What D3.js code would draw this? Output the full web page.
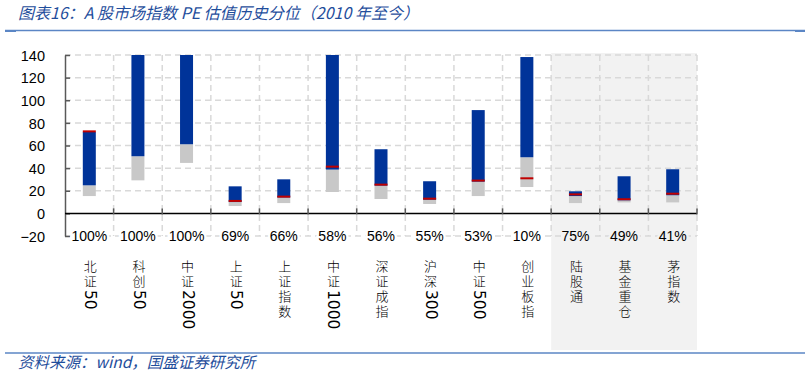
<!DOCTYPE html>
<html>
<head>
<meta charset="utf-8">
<script src="https://cdn.jsdelivr.net/npm/d3@7"></script>
<style>
  body { margin: 0; background: #fff; }
  svg { display: block; }
  .num { font-family: "Liberation Sans", Arial, sans-serif; fill: #000; }
  .cjk { font-family: "Noto Sans CJK SC", sans-serif; }
</style>
</head>
<body>
<script>
const categories = ["北证50", "科创50", "中证2000", "上证50", "上证指数", "中证1000", "深证成指",
                    "沪深300", "中证500", "创业板指", "陆股通", "基金重仓", "茅指数"];
const percentiles = ["100%", "100%", "100%", "69%", "66%", "58%", "56%", "55%", "53%", "10%", "75%", "49%", "41%"];
// PE range per index: bottom of gray, top of gray, top of blue, current value
const peMin = [15.3, 29.2, 44.6, 6.5, 9.1, 18.9, 12.7, 8.3, 15.3, 23.3, 9.1, 9.7, 9.7];
const peLow = [24.8, 50.5, 61.1, 10.0, 14.0, 38.7, 24.5, 12.0, 28.0, 49.6, 15.3, 11.5, 16.0];
const peMax = [72.0, 190, 165, 23.9, 30.1, 150, 56.7, 28.4, 91.3, 138.2, 19.5, 32.8, 39.0];
const peNow = [72.5, 190, 165, 11.0, 14.8, 41.3, 25.4, 13.0, 29.0, 31.0, 16.8, 12.5, 17.4];
const yTicks = [-20, 0, 20, 40, 60, 80, 100, 120, 140];
const shaded = ["陆股通", "基金重仓", "茅指数"];

const W = 811, H = 376;
const margin = { top: 55, left: 65, right: 114, bottom: 140 };
const svg = d3.select("body").append("svg").attr("width", W).attr("height", H);

const x = d3.scaleBand()
  .domain(categories)
  .range([margin.left, W - margin.right]);
const y = d3.scaleLinear()
  .domain([-20, 140])
  .range([H - margin.bottom, margin.top]);

// title and frame lines
svg.append("text")
  .attr("x", 18).attr("y", 19)
  .attr("class", "cjk")
  .style("font-size", "16px").style("font-style", "italic")
  .attr("fill", "#1f4e9c")
  .text("图表16：A 股市场指数 PE 估值历史分位（2010 年至今）");
svg.append("line").attr("x1", 5).attr("x2", 805).attr("y1", 30.5).attr("y2", 30.5)
  .attr("stroke", "#5b86c5").attr("stroke-width", 1.5);
svg.append("rect").attr("x", 5).attr("y", 30).attr("width", 11).attr("height", 2).attr("fill", "#5b86c5");
svg.append("rect").attr("x", 795).attr("y", 30).attr("width", 10).attr("height", 2).attr("fill", "#5b86c5");

// shaded block
const sx0 = x(shaded[0]), sx1 = x(shaded[shaded.length - 1]) + x.bandwidth();
svg.append("rect")
  .attr("x", sx0).attr("y", margin.top - 2)
  .attr("width", sx1 - sx0).attr("height", 350 - margin.top + 2)
  .attr("fill", "#f2f2f2");

// grid
const grid = svg.append("g").attr("stroke", "#d9d9d9").attr("stroke-dasharray", "6,4").attr("stroke-width", 1.5);
grid.selectAll("line.h")
  .data(yTicks.filter(d => d !== 0))
  .enter().append("line")
  .attr("class", "h")
  .attr("x1", margin.left).attr("x2", W - margin.right)
  .attr("y1", d => y(d)).attr("y2", d => y(d));
grid.selectAll("line.v")
  .data(categories)
  .enter().append("line")
  .attr("class", "v")
  .attr("x1", d => x(d) + x.bandwidth()).attr("x2", d => x(d) + x.bandwidth())
  .attr("y1", y(140)).attr("y2", y(-20));

// bars
const bw = 13;
const plot = svg.append("g");
svg.append("clipPath").attr("id", "clip")
  .append("rect").attr("x", margin.left).attr("y", y(140))
  .attr("width", W - margin.right - margin.left).attr("height", y(-20) - y(140));
plot.attr("clip-path", "url(#clip)");

const cx = d => x(d) + x.bandwidth() / 2;
plot.selectAll("rect.low")
  .data(categories)
  .enter().append("rect")
  .attr("x", d => cx(d) - bw / 2).attr("width", bw)
  .attr("y", (d, i) => y(peLow[i]))
  .attr("height", (d, i) => y(peMin[i]) - y(peLow[i]))
  .attr("fill", "#c8c8c8");
plot.selectAll("rect.high")
  .data(categories)
  .enter().append("rect")
  .attr("x", d => cx(d) - bw / 2).attr("width", bw)
  .attr("y", (d, i) => y(peMax[i]))
  .attr("height", (d, i) => y(peLow[i]) - y(peMax[i]))
  .attr("fill", "#003399");
plot.selectAll("rect.now")
  .data(categories)
  .enter().append("rect")
  .attr("x", d => cx(d) - bw / 2).attr("width", bw)
  .attr("y", (d, i) => y(peNow[i]) - 1)
  .attr("height", 2)
  .attr("fill", "#c00000");

// axes
const yAxis = d3.axisLeft(y).tickValues(yTicks).tickSize(0).tickPadding(20);
const gy = svg.append("g")
  .attr("transform", "translate(" + margin.left + ",0)")
  .call(yAxis);
gy.select(".domain").attr("stroke", "#595959").attr("stroke-width", 1.5);
gy.selectAll(".tick text").attr("class", "num").style("font-size", "14.5px").attr("dy", "0.36em");
gy.selectAll(".tick").append("line")
  .attr("x1", 0).attr("x2", 5).attr("stroke", "#595959").attr("stroke-width", 1.5);

svg.append("line")
  .attr("x1", margin.left).attr("x2", W - margin.right)
  .attr("y1", y(0)).attr("y2", y(0))
  .attr("stroke", "#000").attr("stroke-width", 1.5);
svg.selectAll("line.xtick")
  .data(categories)
  .enter().append("line")
  .attr("x1", d => x(d) + x.bandwidth()).attr("x2", d => x(d) + x.bandwidth())
  .attr("y1", y(0) - 5).attr("y2", y(0) + 1)
  .attr("stroke", "#595959").attr("stroke-width", 1.5);

// percentile labels on the -20 line
svg.selectAll("text.pct")
  .data(categories)
  .enter().append("text")
  .attr("class", "num")
  .attr("x", d => cx(d)).attr("y", y(-20))
  .attr("dy", "0.36em")
  .attr("text-anchor", "middle")
  .style("font-size", "14px")
  .attr("stroke", d => shaded.includes(d) ? "#f2f2f2" : "#fff")
  .attr("stroke-width", 5)
  .style("paint-order", "stroke")
  .text((d, i) => percentiles[i]);

// vertical category names: CJK upright and spaced, digits turned sideways
const cats = svg.selectAll("text.cat")
  .data(categories)
  .enter().append("text")
  .attr("class", "cjk")
  .attr("x", d => cx(d) + 1).attr("y", 260)
  .style("writing-mode", "vertical-rl")
  .attr("fill", "#000");
cats.selectAll("tspan")
  .data(d => d.match(/[0-9]+|[^0-9]/g))
  .enter().append("tspan")
  .style("font-size", p => /[0-9]/.test(p) ? "15.5px" : "13px")
  .style("font-weight", p => /[0-9]/.test(p) ? 400 : 300)
  .style("font-family", p => /[0-9]/.test(p) ? "'DejaVu Sans', sans-serif" : null)
  .style("letter-spacing", p => /[0-9]/.test(p) ? "0px" : "2px")
  .text(p => p);

// source
svg.append("line").attr("x1", 5).attr("x2", 805).attr("y1", 353).attr("y2", 353)
  .attr("stroke", "#5b86c5").attr("stroke-width", 1.5);
svg.append("text")
  .attr("x", 18).attr("y", 368)
  .attr("class", "cjk")
  .style("font-size", "15.5px").style("font-style", "italic")
  .attr("fill", "#1f4e9c")
  .text("资料来源：wind，国盛证券研究所");
</script>
</body>
</html>
